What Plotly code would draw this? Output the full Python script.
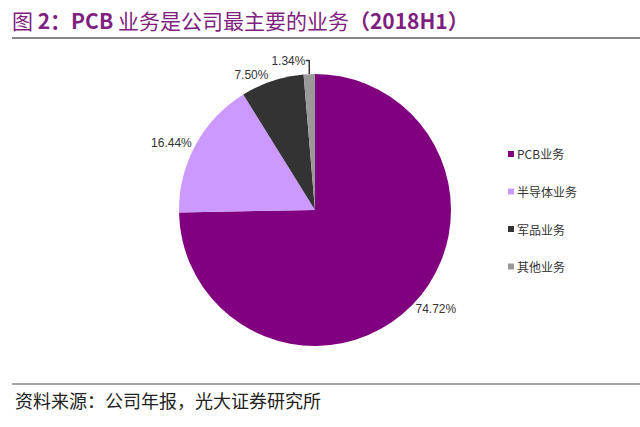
import plotly.graph_objects as go

# 2018H1 revenue split
labels = ["PCB业务", "半导体业务", "军品业务", "其他业务"]
values = [74.72, 16.44, 7.50, 1.34]
colors = ["#800080", "#CC99FF", "#333333", "#999999"]

title_text = "图 <b>2：PCB</b> 业务是公司最主要的业务<b>（2018H1）</b>"
source_text = "资料来源：公司年报，光大证券研究所"

W, H = 640, 427
cjk = "Noto Sans CJK SC"


def fx(px):
    return px / W


def fy(py):
    return 1 - py / H


fig = go.Figure()

fig.add_trace(go.Pie(
    labels=labels,
    values=values,
    marker=dict(colors=colors, line=dict(color="white", width=0)),
    sort=False,
    direction="clockwise",
    rotation=0,
    textposition="outside",
    texttemplate="%{value:.2f}%",
    textfont=dict(family="Arial, Liberation Sans", size=12, color="#333333"),
    showlegend=False,
    domain=dict(x=[fx(179), fx(451)], y=[fy(346), fy(74)]),
))

shapes = [
    dict(type="line", xref="paper", yref="paper", x0=fx(12), x1=1, y0=fy(38), y1=fy(38),
         line=dict(color="#888888", width=2)),
    dict(type="line", xref="paper", yref="paper", x0=fx(12), x1=1, y0=fy(384), y1=fy(384),
         line=dict(color="#888888", width=1.5)),
]
annotations = [
    dict(text=title_text, xref="paper", yref="paper", x=fx(10), y=fy(20),
         xanchor="left", yanchor="middle", showarrow=False,
         font=dict(family=cjk, size=21, color="#7F1F7F")),
    dict(text=source_text, xref="paper", yref="paper", x=fx(13), y=fy(400),
         xanchor="left", yanchor="middle", showarrow=False,
         font=dict(family=cjk, size=18, color="#222222")),
]

# legend drawn manually so the row spacing matches
for i, (lab, col) in enumerate(zip(labels, colors)):
    yc = 154 + i * 37.5
    shapes.append(dict(type="rect", xref="paper", yref="paper",
                       x0=fx(508), x1=fx(514), y0=fy(yc + 3), y1=fy(yc - 3),
                       line=dict(width=0), fillcolor=col))
    annotations.append(dict(text=lab, xref="paper", yref="paper", x=fx(515), y=fy(yc),
                            xanchor="left", yanchor="middle", showarrow=False,
                            font=dict(family=cjk, size=12, color="#333333")))

fig.update_layout(
    width=W, height=H,
    margin=dict(l=0, r=0, t=0, b=0),
    paper_bgcolor="white",
    plot_bgcolor="white",
    shapes=shapes,
    annotations=annotations,
)

# drop the browser's default body margin so the figure fills the window
fig.write_html("out.html", config=dict(displayModeBar=False),
               post_script="document.body.style.margin='0';")
